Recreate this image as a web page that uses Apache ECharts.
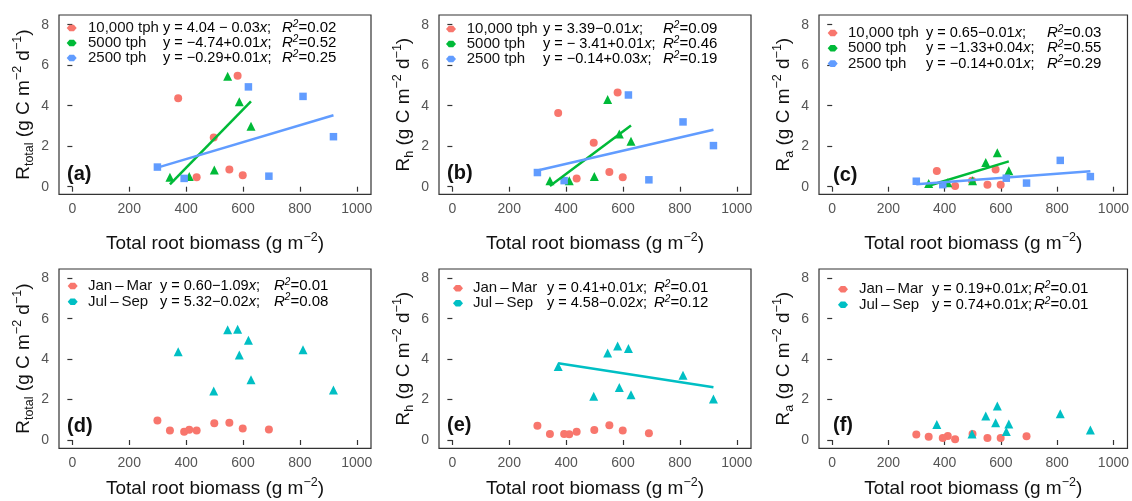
<!DOCTYPE html>
<html><head><meta charset="utf-8">
<script src="https://cdn.jsdelivr.net/npm/echarts@6/dist/echarts.min.js"></script>
<style>html,body{margin:0;padding:0;background:#fff}#c{width:1132px;height:501px}</style>
</head><body><div id="c"></div>
<script>
// ---------------- DATA ----------------
const treatmentNames = ['10,000 tph', '5000 tph', '2500 tph'];
const seasonNames = ['Jan\u2009\u2013\u2009Mar', 'Jul\u2009\u2013\u2009Sep'];
// six plots per treatment; season code 1 = Jul–Sep, 0 = Jan–Mar
const biomass10000 = [372, 581, 497, 437, 552, 599];
const rtotal10000  = [4.37, 5.48, 2.43, 0.47, 0.85, 0.57];
const rh10000      = [3.64, 4.65, 2.17, 0.41, 0.73, 0.47];
const ra10000      = [0.77, 0.85, 0.30, 0.04, 0.10, 0.10];
const season10000  = [1, 1, 1, 0, 0, 0];

const biomass5000 = [546, 587, 628, 499, 343, 411];
const rtotal5000  = [5.45, 4.20, 2.98, 0.83, 0.47, 0.51];
const rh5000      = [4.31, 2.60, 2.24, 0.50, 0.30, 0.29];
const ra5000      = [1.19, 1.68, 0.79, 0.30, 0.16, 0.20];
const season5000  = [1, 1, 1, 0, 0, 0];

const biomass2500 = [619, 811, 918, 299, 691, 393];
const rtotal2500  = [4.93, 4.46, 2.47, 0.97, 0.52, 0.41];
const rh2500      = [4.53, 3.20, 2.03, 0.70, 0.34, 0.30];
const ra2500      = [0.42, 1.30, 0.50, 0.27, 0.18, 0.10];
const season2500  = [1, 1, 1, 0, 0, 0];

const xTicks = [0, 200, 400, 600, 800, 1000];
const yTicks = [0, 2, 4, 6, 8];

const panelLetters = ['(a)', '(b)', '(c)', '(d)', '(e)', '(f)'];
const panelVars = ['rtotal', 'rh', 'ra', 'rtotal', 'rh', 'ra'];
const ySubscripts = {rtotal: 'total', rh: 'h', ra: 'a'};

const eqA = ['y = 4.04 \u2212 0.03', 'y = \u22124.74+0.01', 'y = \u22120.29+0.01'];
const r2A = ['0.02', '0.52', '0.25'];
const eqB = ['y = 3.39\u22120.01', 'y = \u2212 3.41+0.01', 'y = \u22120.14+0.03'];
const r2B = ['0.09', '0.46', '0.19'];
const eqC = ['y = 0.65\u22120.01', 'y = \u22121.33+0.04', 'y = \u22120.14+0.01'];
const r2C = ['0.03', '0.55', '0.29'];
const eqD = ['y = 0.60\u22121.09', 'y = 5.32\u22120.02'];
const r2D = ['0.01', '0.08'];
const eqE = ['y = 0.41+0.01', 'y = 4.58\u22120.02'];
const r2E = ['0.01', '0.12'];
const eqF = ['y = 0.19+0.01', 'y = 0.74+0.01'];
const r2F = ['0.01', '0.01'];
// which groups get a fitted line in each panel
const fitGroups = [[1, 2], [1, 2], [1, 2], [], [1], []];

// ---------------- BUILD ----------------
const FONT = '"Liberation Sans", Arial, sans-serif';
const biomass = [biomass10000, biomass5000, biomass2500];
const resp = {
  rtotal: [rtotal10000, rtotal5000, rtotal2500],
  rh: [rh10000, rh5000, rh2500],
  ra: [ra10000, ra5000, ra2500]
};
const seasons = [season10000, season5000, season2500];
const panelEqs = [eqA, eqB, eqC, eqD, eqE, eqF];
const panelR2 = [r2A, r2B, r2C, r2D, r2E, r2F];

const colTreat = ['#F8766D', '#00BA38', '#619CFF'];
const symTreat = ['circle', 'triangle', 'rect'];
const sizeTreat = [8, 9, 7.5];
const colSeason = ['#F8766D', '#00BFC4'];
const symSeason = ['circle', 'triangle'];
const sizeSeason = [8, 9];

const gridLeft = [59, 439, 819];
const gridTop = [15, 269];
const gridW = 312, gridH = 179.3;
const yRange = [[-0.375, 8.48], [-0.41, 8.46]];
const xNameGap = [37, 28];

// legend layout per panel: iconX, nameX, eqX, rX, firstRowY, rowGap
const legLayout = [
  [71.7, 88, 163, 282, 28, 15],
  [451, 466.7, 543, 663, 29, 15],
  [832.7, 848, 926, 1047, 33, 15.3],
  [72.7, 88, 160, 274, 286, 15.7],
  [458, 473, 547, 654, 288.3, 15],
  [843, 859, 932, 1034, 289.3, 15.5]
];
const letterPos = [[67, 174.5], [447, 173.5], [833, 175], [67, 426.7], [447, 425.7], [833, 425.7]];

function linFit(xs, ys) {
  const n = xs.length;
  const mx = xs.reduce((a, b) => a + b, 0) / n;
  const my = ys.reduce((a, b) => a + b, 0) / n;
  let sxy = 0, sxx = 0;
  for (let i = 0; i < n; i++) { sxy += (xs[i] - mx) * (ys[i] - my); sxx += (xs[i] - mx) ** 2; }
  const b = sxy / sxx, a = my - b * mx;
  const x0 = Math.min(...xs), x1 = Math.max(...xs);
  return [[x0, a + b * x0], [x1, a + b * x1]];
}

const grids = [], xAxes = [], yAxes = [], series = [], graphics = [];

for (let p = 0; p < 6; p++) {
  const row = Math.floor(p / 3), col = p % 3;
  const v = panelVars[p];
  grids.push({
    left: gridLeft[col], top: gridTop[row], width: gridW, height: gridH,
    show: true, borderColor: '#333', borderWidth: 1.2, backgroundColor: '#fff'
  });
  xAxes.push({
    type: 'value', gridIndex: p, min: -47, max: 1050,
    name: '{r|Total root biomass (g m}{sup|\u22122}{r|)}',
    nameLocation: 'middle', nameGap: xNameGap[row],
    nameTextStyle: {
      rich: {
        r: {fontSize: 19, fontFamily: FONT, color: '#111', lineHeight: 25},
        sup: {fontSize: 12.5, fontFamily: FONT, color: '#111', lineHeight: 12, verticalAlign: 'top'}
      }
    },
    axisLine: {show: false},
    splitLine: {show: false},
    axisTick: {show: true, length: 5, customValues: xTicks, lineStyle: {color: '#333', width: 1.2}},
    axisLabel: {customValues: xTicks, fontSize: 14, fontFamily: FONT, color: '#555', margin: 8,
      formatter: val => String(val)}
  });
  yAxes.push({
    type: 'value', gridIndex: p, min: yRange[row][0], max: yRange[row][1],
    name: '{r|R}{sub|' + ySubscripts[v] + '}{r| (g C m}{sup|\u22122}{r| d}{sup|\u22121}{r|)}',
    nameLocation: 'middle', nameGap: 23, nameRotate: 90,
    nameTextStyle: {
      rich: {
        r: {fontSize: 19, fontFamily: FONT, color: '#111', lineHeight: 25},
        sub: {fontSize: 12.5, fontFamily: FONT, color: '#111', lineHeight: 12, verticalAlign: 'bottom'},
        sup: {fontSize: 12.5, fontFamily: FONT, color: '#111', lineHeight: 12, verticalAlign: 'top'}
      }
    },
    axisLine: {show: false},
    splitLine: {show: false},
    axisTick: {show: true, length: 5, customValues: yTicks, lineStyle: {color: '#333', width: 1.2}},
    axisLabel: {customValues: yTicks, fontSize: 14, fontFamily: FONT, color: '#555', margin: 10,
      formatter: val => String(val)}
  });

  let groupNames, groupCols;
  if (p < 3) {
    groupNames = treatmentNames; groupCols = colTreat;
    for (let t = 0; t < 3; t++) {
      series.push({
        type: 'scatter', name: treatmentNames[t], xAxisIndex: p, yAxisIndex: p,
        symbol: symTreat[t], symbolSize: sizeTreat[t], z: 2,
        itemStyle: {color: colTreat[t], opacity: 1},
        data: biomass[t].map((x, i) => [x, resp[v][t][i]])
      });
    }
    fitGroups[p].forEach(t => {
      series.push({
        type: 'line', name: 'fit ' + treatmentNames[t], xAxisIndex: p, yAxisIndex: p,
        symbol: 'none', z: 3, silent: true,
        lineStyle: {color: colTreat[t], width: 2.5},
        data: linFit(biomass[t], resp[v][t])
      });
    });
  } else {
    groupNames = seasonNames; groupCols = colSeason;
    for (let s = 0; s < 2; s++) {
      const xs = [], ys = [];
      for (let t = 0; t < 3; t++) {
        biomass[t].forEach((x, i) => { if (seasons[t][i] === s) { xs.push(x); ys.push(resp[v][t][i]); } });
      }
      series.push({
        type: 'scatter', name: seasonNames[s], xAxisIndex: p, yAxisIndex: p,
        symbol: symSeason[s], symbolSize: sizeSeason[s], z: 2,
        itemStyle: {color: colSeason[s], opacity: 1},
        data: xs.map((x, i) => [x, ys[i]])
      });
      if (fitGroups[p].includes(s)) {
        series.push({
          type: 'line', name: 'fit ' + seasonNames[s], xAxisIndex: p, yAxisIndex: p,
          symbol: 'none', z: 3, silent: true,
          lineStyle: {color: colSeason[s], width: 2.5},
          data: linFit(xs, ys)
        });
      }
    }
  }

  // legend (drawn as graphic text so columns align like the reference)
  const L = legLayout[p];
  groupNames.forEach((nm, k) => {
    const y = L[4] + k * L[5];
    graphics.push({
      type: 'polygon', x: L[0], y: y, z: 10,
      shape: {points: [[-5, 0], [-2.2, -3.3], [2.2, -3.3], [5, 0], [2.2, 3.3], [-2.2, 3.3]]},
      style: {fill: groupCols[k]}
    });
    graphics.push({
      type: 'text', x: L[1], y: y, z: 10,
      style: {text: nm, font: '15px ' + FONT, fill: '#111', textAlign: 'left', textVerticalAlign: 'middle', align: 'left', verticalAlign: 'middle'}
    });
    graphics.push({
      type: 'text', x: L[2], y: y, z: 10,
      style: {
        text: '{n|' + panelEqs[p][k] + '}{i|x}{n|;}',
        textAlign: 'left', textVerticalAlign: 'middle', align: 'left', verticalAlign: 'middle',
        rich: {
          n: {fontSize: 14.5, fontFamily: FONT, color: '#111', lineHeight: 18},
          i: {fontSize: 14.5, fontFamily: FONT, fontStyle: 'italic', color: '#111', lineHeight: 18}
        }
      }
    });
    graphics.push({
      type: 'text', x: L[3], y: y, z: 10,
      style: {
        text: '{i|R}{s|2}{n|=' + panelR2[p][k] + '}',
        textAlign: 'left', textVerticalAlign: 'middle', align: 'left', verticalAlign: 'middle',
        rich: {
          n: {fontSize: 15, fontFamily: FONT, color: '#111', lineHeight: 18},
          i: {fontSize: 15, fontFamily: FONT, fontStyle: 'italic', color: '#111', lineHeight: 18},
          s: {fontSize: 10, fontFamily: FONT, fontStyle: 'italic', color: '#111', lineHeight: 11, verticalAlign: 'top'}
        }
      }
    });
  });
  graphics.push({
    type: 'text', x: letterPos[p][0], y: letterPos[p][1], z: 10,
    style: {text: panelLetters[p], font: 'bold 20px ' + FONT, fill: '#111', textAlign: 'left', textVerticalAlign: 'middle', align: 'left', verticalAlign: 'middle'}
  });
}

const chart = echarts.init(document.getElementById('c'), null, {renderer: 'canvas'});
chart.setOption({
  backgroundColor: '#fff',
  animation: false,
  grid: grids, xAxis: xAxes, yAxis: yAxes, series: series, graphic: graphics
});
</script>
</body></html>
